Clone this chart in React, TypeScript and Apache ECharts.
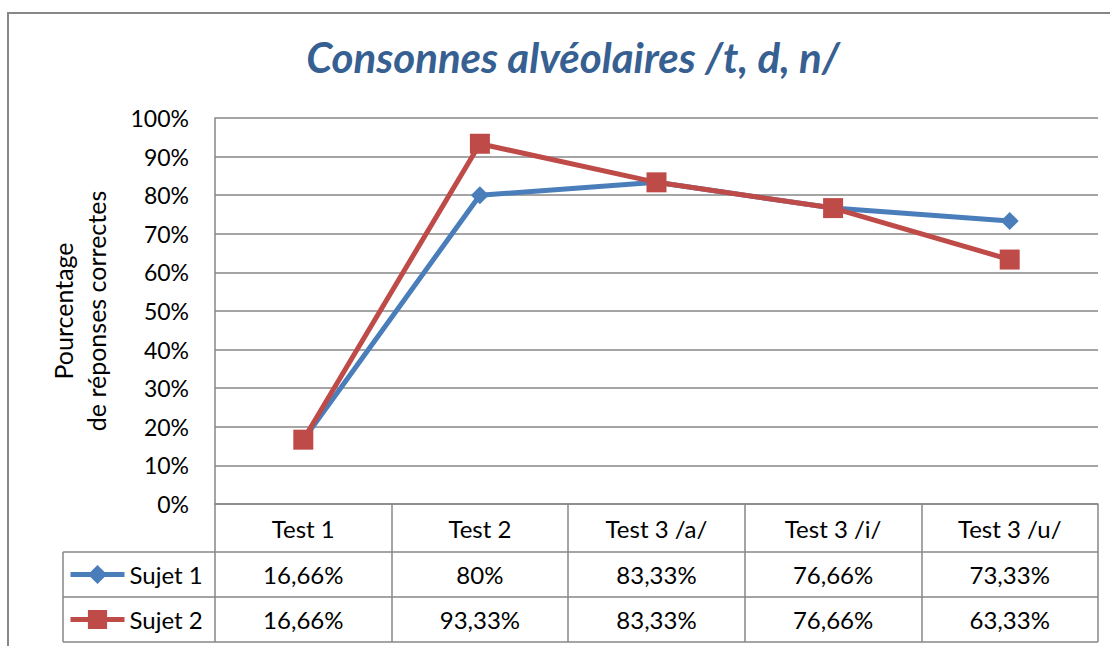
import React, { useEffect, useRef } from "react";
import * as echarts from "echarts";

const categories = ["Test 1", "Test 2", "Test 3 /a/", "Test 3 /i/", "Test 3 /u/"];
const sujet1 = [16.66, 80, 83.33, 76.66, 73.33];
const sujet2 = [16.66, 93.33, 83.33, 76.66, 63.33];
const seriesNames = ["Sujet 1", "Sujet 2"];
const yTicks = [0, 10, 20, 30, 40, 50, 60, 70, 80, 90, 100];

const FONT = "Lato, 'Noto Sans', sans-serif";
const GRID = "#878787";
const BLUE = "#4A7EBB";
const RED = "#BE4B48";

const fmt = (v: number) => (Math.round(v * 100) / 100).toString().replace(".", ",") + "%";

export default function App() {
  const ref = useRef<HTMLDivElement>(null);
  useEffect(() => {
    if (!ref.current) return;
    const chart = echarts.init(ref.current, undefined, { renderer: "svg" });
    const gridLeft = 215, gridTop = 118, gridRight = 1098, gridBottom = 504;
    const rowTops = [504, 552, 597, 642];
    const tableLeft = 63;
    const allSeries = [sujet1, sujet2];
    const colors = [BLUE, RED];
    const symbols = ["diamond", "rect"];
    const symSizes = [18, 20];
    const rowCenters = [(rowTops[1] + rowTops[2]) / 2, (rowTops[2] + rowTops[3]) / 2];
    const FS = 24;

    chart.setOption({
      animation: false,
      title: {
        text: "Consonnes alvéolaires /t, d, n/",
        left: 568,
        top: 31,
        textAlign: "center",
        textStyle: { fontFamily: FONT, fontSize: 42, fontWeight: "bold", fontStyle: "italic", color: "#376092" },
      },
      legend: seriesNames.map((n, i) => ({
        data: [n],
        orient: "vertical",
        left: 68,
        top: rowCenters[i] - 12,
        padding: 0,
        itemWidth: 54,
        itemHeight: 24,
        lineStyle: { width: 5 },
        textStyle: { fontFamily: FONT, fontSize: FS, lineHeight: 24, color: "#000" },
        selectedMode: false,
      })),
      grid: { left: gridLeft, top: gridTop, width: gridRight - gridLeft, height: gridBottom - gridTop, containLabel: false },
      xAxis: {
        type: "category",
        data: categories,
        boundaryGap: true,
        axisLine: { show: true, lineStyle: { color: GRID, width: 1.5 } },
        axisTick: { show: true, length: rowTops[3] - rowTops[0], lineStyle: { color: GRID, width: 1.5 } },
        axisLabel: { margin: 24, verticalAlign: "middle", fontFamily: FONT, fontSize: FS, color: "#000" },
      },
      yAxis: {
        type: "value",
        min: yTicks[0],
        max: yTicks[yTicks.length - 1],
        interval: 10,
        axisLine: { show: true, lineStyle: { color: GRID, width: 1.5 } },
        axisTick: { show: false },
        splitLine: { lineStyle: { color: GRID, width: 1.5 } },
        axisLabel: { margin: 26, formatter: (v: number) => v + "%", fontFamily: FONT, fontSize: 23, color: "#000" },
      },
      series: allSeries.map((d, i) => ({
        name: seriesNames[i],
        type: "line",
        data: d,
        symbol: symbols[i],
        symbolSize: symSizes[i],
        lineStyle: { color: colors[i], width: 5 },
        itemStyle: { color: colors[i] },
        z: 2 + i,
      })),
    });

    const texts: any[] = [];
    allSeries.forEach((d, si) => {
      d.forEach((v, ci) => {
        const x = chart.convertToPixel({ xAxisIndex: 0 }, ci) as number;
        texts.push({
          type: "text",
          x,
          y: rowCenters[si],
          style: { text: fmt(v), fontFamily: FONT, fontSize: FS, fill: "#000", align: "center", verticalAlign: "middle" },
        });
      });
    });
    const lines: any[] = [];
    [rowTops[1], rowTops[2], rowTops[3]].forEach((y) => {
      lines.push({ type: "line", shape: { x1: tableLeft, y1: y, x2: gridRight, y2: y }, style: { stroke: GRID, lineWidth: 1.5 } });
    });
    lines.push({ type: "line", shape: { x1: tableLeft, y1: rowTops[1], x2: tableLeft, y2: rowTops[3] }, style: { stroke: GRID, lineWidth: 1.5 } });

    chart.setOption({
      graphic: [
        { type: "rect", shape: { x: 8, y: 13, width: 1200, height: 700 }, style: { fill: "none", stroke: GRID, lineWidth: 2 }, silent: true },
        {
          type: "text",
          x: 79,
          y: (gridTop + gridBottom) / 2,
          rotation: Math.PI / 2,
          style: {
            text: "Pourcentage\nde réponses correctes",
            fontFamily: FONT,
            fontSize: 25,
            lineHeight: 33,
            fill: "#000",
            align: "center",
            verticalAlign: "middle",
          },
        },
        ...lines,
        ...texts,
      ],
    });
    return () => chart.dispose();
  }, []);
  return <div ref={ref} style={{ position: "absolute", left: 0, top: 0, width: 1110, height: 646, background: "#fff" }} />;
}
